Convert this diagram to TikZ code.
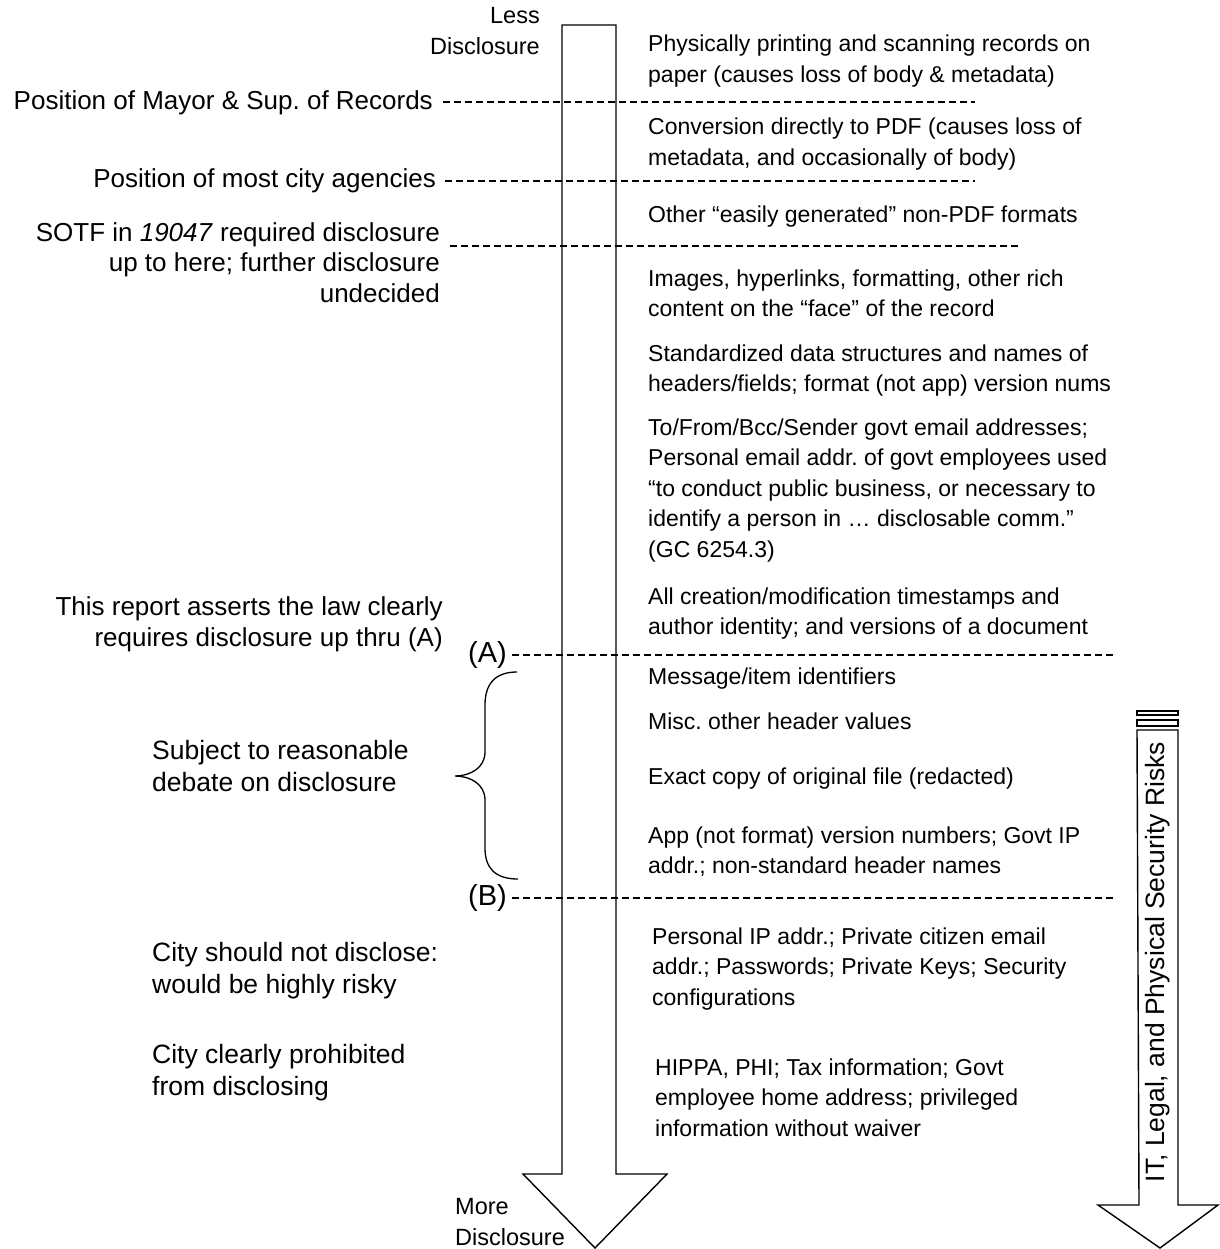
\documentclass[tikz,border=0pt]{standalone}
\usepackage{fontspec}
\setmainfont{Liberation Sans}
\frenchspacing
\begin{document}
\begin{tikzpicture}[x=1pt,y=-1pt,
  rtext/.style={anchor=base west, align=left, inner sep=0pt, font=\fontsize{23}{30.5}\selectfont},
  ltext/.style={anchor=base east, align=right, inner sep=0pt, font=\fontsize{26}{31}\selectfont},
  lltext/.style={anchor=base west, align=left, inner sep=0pt, font=\fontsize{26.5}{32}\selectfont},
  abtext/.style={anchor=east, inner sep=0pt, font=\fontsize{29}{32}\selectfont},
  dline/.style={draw, line width=1.1pt, dash pattern=on 7pt off 4pt},
  arrowshape/.style={draw, line width=1.4pt, line join=miter},
  bracestyle/.style={draw, line width=1.3pt}]
\useasboundingbox (0,0) rectangle (1219,1249);

% main arrow
\path[arrowshape] (562,25) -- (616,25) -- (616,1174) -- (667,1174) -- (595,1248)
  -- (523,1174) -- (562,1174) -- cycle;
\node[anchor=base east, align=right, inner sep=0pt, font=\fontsize{23.5}{30.5}\selectfont] (less) at (540,54.5) {Less\\Disclosure};
\node[anchor=base west, align=left, inner sep=0pt, font=\fontsize{23.5}{30.5}\selectfont] (more) at (455,1245) {More\\Disclosure};

% right arrow
\path[arrowshape] (1137,730) -- (1178,730) -- (1178,1205) -- (1218,1205) -- (1160,1248)
  -- (1098,1205) -- (1139,1205) -- cycle;
\path[draw, line width=1.2pt] (1137,711) rectangle (1178,715);
\path[draw, line width=1.2pt] (1137,720) rectangle (1178,726);
\node[rotate=90, inner sep=0pt, font=\fontsize{26.5}{30}\selectfont] (risks) at (1158,962) {IT, Legal, and Physical Security Risks};

% right texts (base = baseline of last line)
\node[rtext] (r1) at (648,82.5) {Physically printing and scanning records on\\paper (causes loss of body \& metadata)};
\node[rtext] (r2) at (648,165.5) {Conversion directly to PDF (causes loss of\\metadata, and occasionally of body)};
\node[rtext] (r3) at (648,223) {Other “easily generated” non-PDF formats};
\node[rtext] (r4) at (648,316.5) {Images, hyperlinks, formatting, other rich\\content on the “face” of the record};
\node[rtext] (r5) at (648,391.5) {Standardized data structures and names of\\headers/fields; format (not app) version nums};
\node[rtext] (r6) at (648,557) {To/From/Bcc/Sender govt email addresses;\\Personal email addr. of govt employees used\\“to conduct public business, or necessary to\\identify a person in … disclosable comm.”\\(GC 6254.3)};
\node[rtext] (r7) at (648,634.5) {All creation/modification timestamps and\\author identity; and versions of a document};
\node[rtext] (r8) at (648,684) {Message/item identifiers};
\node[rtext] (r9) at (648,729) {Misc. other header values};
\node[rtext] (r10) at (648,784) {Exact copy of original file (redacted)};
\node[rtext] (r11) at (648,873.5) {App (not format) version numbers; Govt IP\\addr.; non-standard header names};
\node[rtext] (r12) at (652,1005) {Personal IP addr.; Private citizen email\\addr.; Passwords; Private Keys; Security\\configurations};
\node[rtext] (r13) at (655,1136) {HIPPA, PHI; Tax information; Govt\\employee home address; privileged\\information without waiver};

% left labels
\node[ltext] (mayor) at (433,110) {Position of Mayor \& Sup. of Records};
\node[ltext] (agencies) at (436,188) {Position of most city agencies};
\node[ltext, font=\fontsize{26}{30.5}\selectfont] (sotf) at (440,302) {SOTF in \textit{19047} required disclosure\\up to here; further disclosure\\undecided};
\node[ltext] (report) at (443,646) {This report asserts the law clearly\\requires disclosure up thru (A)};
\node[lltext] (subject) at (152,791) {Subject to reasonable\\debate on disclosure};
\node[lltext] (risky) at (152,993) {City should not disclose:\\would be highly risky};
\node[lltext] (prohib) at (152,1095) {City clearly prohibited\\from disclosing};
\node[abtext] (A) at (507,655) {(A)};
\node[abtext] (B) at (507,898) {(B)};

% dashed lines
\coordinate (mayorEnd) at (975,102);
\coordinate (agenciesEnd) at (975,181);
\coordinate (sotfStart) at (450,246);
\coordinate (sotfEnd) at (1020,246);
\coordinate (AEnd) at (1115,655);
\coordinate (BEnd) at (1115,898);
\draw[dline] ([xshift=10pt]mayor.east |- mayorEnd) -- (mayorEnd);
\draw[dline] ([xshift=9pt]agencies.east |- agenciesEnd) -- (agenciesEnd);
\draw[dline] (sotfStart) -- (sotfEnd);
\draw[dline] ([xshift=5pt]A.east) -- (AEnd);
\draw[dline] ([xshift=5pt]B.east) -- (BEnd);

% brace
\path[bracestyle] (517,672) .. controls (495,672) and (485,684) .. (485,705)
  -- (485,752) .. controls (485,768) and (470,776) .. (455,776)
  .. controls (470,776) and (485,784) .. (485,800)
  -- (485,848) .. controls (485,868) and (495,879) .. (518,879);
\end{tikzpicture}
\end{document}
